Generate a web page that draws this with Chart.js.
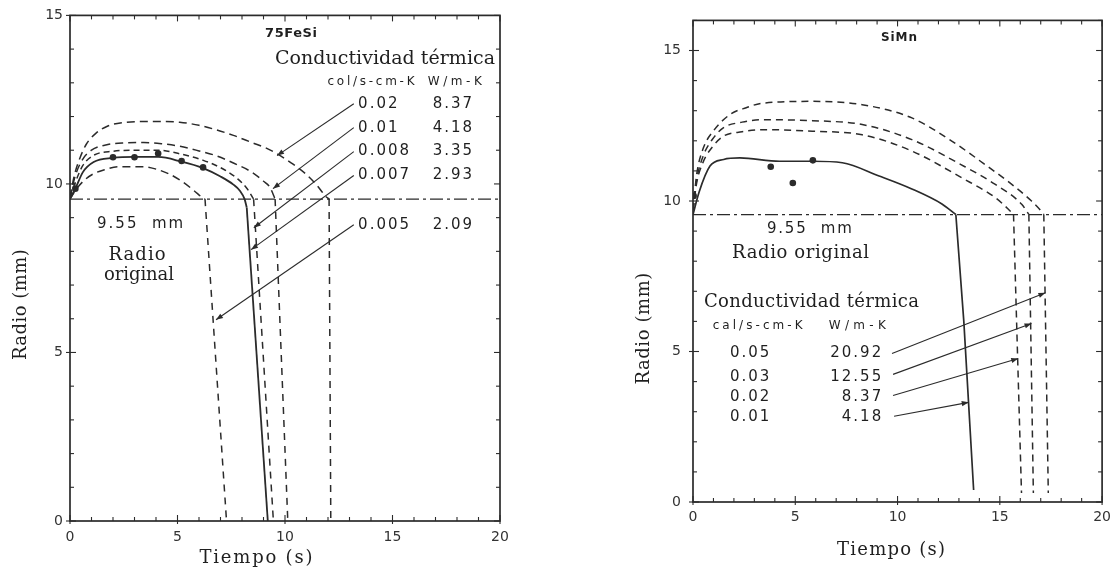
<!DOCTYPE html>
<html>
<head>
<meta charset="utf-8">
<title>Radio vs tiempo - 75FeSi y SiMn</title>
<script src="https://cdn.jsdelivr.net/npm/chart.js@4.4.0/dist/chart.umd.min.js"></script>
<style>
  body { margin: 0; background: #fff; }
  #wrap { position: relative; width: 1118px; height: 576px; }
  canvas { position: absolute; top: 0; }
  #chartFe { left: 0; }
  #chartMn { left: 560px; }
</style>
</head>
<body>
<div id="wrap">
  <canvas id="chartFe" width="560" height="576"></canvas>
  <canvas id="chartMn" width="558" height="576"></canvas>
</div>

<script>
// ---------- 75FeSi (izquierda) ----------
// parte curva hasta el radio original, luego la caida casi vertical
var fe002X = [0, 0.2, 0.45, 0.75, 1.2, 1.76, 2.5, 3.43, 4.3, 5.1, 6.0, 6.78, 7.6, 8.45, 9.1, 9.62, 10.3, 10.96, 11.5, 11.88, 12.05];
var fe002Y = [9.6, 10.25, 10.75, 11.17, 11.5, 11.72, 11.82, 11.85, 11.85, 11.83, 11.74, 11.61, 11.44, 11.23, 11.07, 10.9, 10.62, 10.3, 9.95, 9.64, 9.55];
var fe002DropX = [12.05, 12.13];
var fe002DropY = [9.55, 0];
var fe001X = [0, 0.25, 0.59, 1.0, 1.76, 2.6, 3.43, 4.3, 5.1, 6.0, 6.78, 7.6, 8.45, 9.0, 9.29, 9.54];
var fe001Y = [9.6, 10.25, 10.73, 11.0, 11.17, 11.22, 11.23, 11.19, 11.12, 10.98, 10.84, 10.62, 10.35, 10.08, 9.91, 9.55];
var fe001DropX = [9.54, 10.13];
var fe001DropY = [9.55, 0];
var fe0008X = [0, 0.25, 0.6, 1.1, 2.0, 3.0, 4.1, 5.2, 6.2, 7.1, 7.8, 8.25, 8.54];
var fe0008Y = [9.6, 10.05, 10.55, 10.85, 10.97, 11.0, 11.0, 10.88, 10.7, 10.45, 10.15, 9.85, 9.55];
var fe0008DropX = [8.54, 9.46];
var fe0008DropY = [9.55, 0];
var fe0007X = [0, 0.25, 0.6, 1.1, 2.0, 3.0, 4.1, 5.19, 6.19, 7.0, 7.6, 7.9, 8.12, 8.22];
var fe0007Y = [9.55, 9.86, 10.35, 10.65, 10.77, 10.8, 10.8, 10.66, 10.47, 10.22, 9.98, 9.8, 9.55, 9.3];
var fe0007DropX = [8.22, 9.2];
var fe0007DropY = [9.3, 0];
var fe0005X = [0, 0.3, 0.65, 1.09, 1.6, 2.26, 3.43, 4.0, 4.6, 5.2, 5.77, 6.19, 6.28];
var fe0005Y = [9.55, 9.85, 10.1, 10.3, 10.42, 10.51, 10.51, 10.44, 10.3, 10.08, 9.8, 9.58, 9.55];
var fe0005DropX = [6.28, 7.28];
var fe0005DropY = [9.55, 0];
var feDotX = [0.25, 2.0, 3.0, 4.1, 5.19, 6.19];
var feDotY = [9.86, 10.79, 10.79, 10.9, 10.68, 10.49];
var feLeadX = [[13.2, 9.63], [13.2, 9.44], [13.2, 8.55], [13.2, 8.42], [13.2, 6.79]];
var feLeadY = [[12.38, 10.84], [11.67, 9.86], [10.96, 8.7], [10.25, 8.05], [8.79, 5.97]];
var feCal = ['0.02', '0.01', '0.008', '0.007', '0.005'];
var feWm = ['8.37', '4.18', '3.35', '2.93', '2.09'];

// ---------- SiMn (derecha) ----------
var mn005X = [0, 0.18, 0.5, 0.99, 1.8, 2.6, 3.4, 5.84, 8.27, 10.7, 12.65, 14.3, 15.57, 16.55, 16.98, 17.15];
var mn005Y = [9.7, 10.88, 11.75, 12.32, 12.87, 13.1, 13.25, 13.31, 13.2, 12.76, 11.99, 11.2, 10.56, 10.0, 9.7, 9.55];
var mn005DropX = [17.15, 17.37];
var mn005DropY = [9.55, 0.3];
var mn003X = [0, 0.18, 0.5, 0.95, 1.48, 2.4, 3.4, 5.84, 8.27, 10.7, 13.1, 14.78, 16.07, 16.42];
var mn003Y = [9.7, 10.7, 11.5, 12.05, 12.43, 12.62, 12.7, 12.67, 12.54, 12.04, 11.21, 10.55, 9.89, 9.55];
var mn003DropX = [16.42, 16.64];
var mn003DropY = [9.55, 0.3];
var mn002X = [0, 0.18, 0.5, 0.95, 1.48, 2.4, 3.4, 5.84, 8.27, 10.7, 13.14, 14.78, 15.43, 15.67];
var mn002Y = [9.7, 10.6, 11.3, 11.8, 12.15, 12.3, 12.37, 12.32, 12.2, 11.66, 10.77, 10.11, 9.72, 9.55];
var mn002DropX = [15.67, 16.06];
var mn002DropY = [9.55, 0.3];
var mn001X = [0, 0.3, 0.83, 1.5, 2.29, 4.23, 5.84, 7.3, 9.1, 10.7, 12.17, 12.85];
var mn001Y = [9.55, 10.3, 11.16, 11.38, 11.43, 11.32, 11.32, 11.27, 10.83, 10.4, 9.9, 9.55];
var mn001DropX = [12.85, 13.24, 13.72];
var mn001DropY = [9.55, 6.0, 0.4];
var mnDotX = [0.03, 3.8, 4.88, 5.86];
var mnDotY = [10.17, 11.14, 10.6, 11.35];
var mnLeadX = [[9.73, 17.23], [9.78, 16.55], [9.78, 15.9], [9.83, 13.48]];
var mnLeadY = [[4.93, 6.95], [4.24, 5.93], [3.54, 4.77], [2.85, 3.31]];
var mnCal = ['0.05', '0.03', '0.02', '0.01'];
var mnWm = ['20.92', '12.55', '8.37', '4.18'];

var radioOriginal = 9.55;
var xTicks = [0, 5, 10, 15, 20];
var yTicks = [0, 5, 10, 15];

// ---------- helpers ----------
function pts(xs, ys) {
  return xs.map(function (v, i) { return { x: v, y: ys[i] }; });
}
var INK = '#2b2b2b';
var SERIF = '"DejaVu Serif", "Liberation Serif", serif';
var SANS = '"DejaVu Sans", "Liberation Sans", sans-serif';

function curve(xs, ys, dash, w) {
  return { data: pts(xs, ys), showLine: true, borderColor: INK, borderWidth: w || 1.5,
           borderDash: dash || [], pointRadius: 0, cubicInterpolationMode: 'monotone', fill: false };
}
function straight(xs, ys, dash, w, arrow) {
  return { data: pts(xs, ys), showLine: true, borderColor: INK, borderWidth: w || 1.1,
           borderDash: dash || [], pointRadius: 0, tension: 0, fill: false, arrow: !!arrow };
}
function dots(xs, ys, r) {
  return { data: pts(xs, ys), showLine: false, pointRadius: r, pointBackgroundColor: INK,
           pointBorderColor: INK, pointBorderWidth: 0 };
}

// texto con espaciado ajustado a un ancho dado
function putText(ctx, t, px, py) {
  ctx.font = t.font;
  ctx.letterSpacing = '0px';
  var w0 = ctx.measureText(t.s).width;
  var ls = t.ls || 0;
  if (t.w) ls = (t.w - w0) / Math.max(1, t.s.length - 1);
  var total = w0 + ls * (t.s.length - 1);
  ctx.letterSpacing = ls + 'px';
  ctx.save();
  ctx.translate(px, py);
  if (t.rot) ctx.rotate(t.rot);
  var x0 = t.align === 'left' ? 0 : (t.align === 'right' ? -total : -total / 2);
  ctx.textAlign = 'left';
  ctx.textBaseline = 'middle';
  ctx.fillStyle = '#1f1f1f';
  ctx.fillText(t.s, x0, 0);
  ctx.restore();
  ctx.letterSpacing = '0px';
}

var decor = {
  id: 'decor',
  afterDatasetsDraw: function (chart, args, o) {
    var ctx = chart.ctx, a = chart.chartArea, sx = chart.scales.x, sy = chart.scales.y;
    ctx.save();
    ctx.setLineDash([]);
    ctx.strokeStyle = INK;
    // marco
    ctx.lineWidth = 1.7;
    ctx.strokeRect(a.left, a.top, a.right - a.left, a.bottom - a.top);
    // marcas de escala
    ctx.lineWidth = 1.1;
    function seg(x1, y1, x2, y2) { ctx.beginPath(); ctx.moveTo(x1, y1); ctx.lineTo(x2, y2); ctx.stroke(); }
    var v, p, big;
    for (v = sx.min; v <= sx.max; v++) {
      p = sx.getPixelForValue(v); big = v % 5 === 0;
      seg(p, a.bottom + (big ? 3 : 0), p, a.bottom - (big ? 6 : 4));
      seg(p, a.top, p, a.top + (big ? 6 : 4));
    }
    for (v = sy.min; v <= sy.max; v++) {
      p = sy.getPixelForValue(v); big = v % 5 === 0;
      seg(a.left - (big ? 4 : 0), p, a.left + (big ? 6 : 4), p);
      seg(a.right, p, a.right - (big ? 6 : 4), p);
    }
    // puntas de flecha
    chart.data.datasets.forEach(function (ds, i) {
      if (!ds.arrow) return;
      var el = chart.getDatasetMeta(i).data;
      var p1 = el[el.length - 2], p2 = el[el.length - 1];
      var ang = Math.atan2(p2.y - p1.y, p2.x - p1.x), L = 7, H = 2.6;
      ctx.fillStyle = INK;
      ctx.beginPath();
      ctx.moveTo(p2.x, p2.y);
      ctx.lineTo(p2.x - L * Math.cos(ang) + H * Math.sin(ang), p2.y - L * Math.sin(ang) - H * Math.cos(ang));
      ctx.lineTo(p2.x - L * Math.cos(ang) - H * Math.sin(ang), p2.y - L * Math.sin(ang) + H * Math.cos(ang));
      ctx.closePath();
      ctx.fill();
    });
    // textos
    (o.texts || []).forEach(function (t) {
      putText(ctx, t, sx.getPixelForValue(t.x), sy.getPixelForValue(t.y));
    });
    ctx.restore();
  }
};

function makeOptions(ymax, pad, yW, xH, padX, padY, texts) {
  return {
    responsive: false,
    animation: false,
    layout: { padding: pad },
    plugins: { legend: { display: false }, tooltip: { enabled: false }, decor: { texts: texts } },
    scales: {
      x: {
        type: 'linear', min: 0, max: 20,
        afterFit: function (s) { s.height = xH; },
        afterBuildTicks: function (s) { s.ticks = xTicks.map(function (v) { return { value: v }; }); },
        grid: { display: false, drawTicks: false }, border: { display: false },
        ticks: { padding: padX, color: '#333', font: { family: SANS, size: 14 } }
      },
      y: {
        type: 'linear', min: 0, max: ymax,
        afterFit: function (s) { s.width = yW; },
        afterBuildTicks: function (s) { s.ticks = yTicks.map(function (v) { return { value: v }; }); },
        grid: { display: false, drawTicks: false }, border: { display: false },
        ticks: { padding: padY, color: '#333', font: { family: SANS, size: 14 } }
      }
    }
  };
}

// ---------- grafico 75FeSi ----------
var feSets = [
  straight([0, 20], [radioOriginal, radioOriginal], [13, 4, 3, 4], 1.3),
  curve(fe002X, fe002Y, [8, 5]),
  straight(fe002DropX, fe002DropY, [7, 6], 1.5),
  curve(fe001X, fe001Y, [8, 5]),
  straight(fe001DropX, fe001DropY, [7, 6], 1.5),
  curve(fe0008X, fe0008Y, [6, 4]),
  straight(fe0008DropX, fe0008DropY, [7, 6], 1.5),
  curve(fe0007X, fe0007Y, [], 1.8),
  straight(fe0007DropX, fe0007DropY, [], 1.8),
  curve(fe0005X, fe0005Y, [8, 5]),
  straight(fe0005DropX, fe0005DropY, [7, 6], 1.5),
  dots(feDotX, feDotY, 3.3)
];
feLeadX.forEach(function (xs, i) { feSets.push(straight(xs, feLeadY[i], [], 1.1, true)); });

var feTexts = [
  { s: '75FeSi', x: 10.28, y: 14.46, font: 'bold 13px ' + SANS, w: 52 },
  { s: 'Conductividad térmica', x: 14.65, y: 13.69, font: '19px ' + SERIF, w: 220 },
  { s: 'col/s-cm-K', x: 14.0, y: 13.04, font: '12px ' + SANS, w: 87 },
  { s: 'W/m-K', x: 17.9, y: 13.04, font: '12px ' + SANS, w: 54 },
  { s: '9.55  mm', x: 3.26, y: 8.82, font: '15px ' + SANS, w: 86 },
  { s: 'Radio', x: 3.12, y: 7.89, font: '18px ' + SERIF, w: 57 },
  { s: 'original', x: 3.21, y: 7.28, font: '18px ' + SERIF, w: 70 },
  { s: 'Tiempo (s)', x: 8.65, y: -1.1, font: '18px ' + SERIF, w: 113 },
  { s: 'Radio (mm)', x: -2.28, y: 6.42, font: '18px ' + SERIF, w: 111, rot: -Math.PI / 2 }
];
var feRowY = [12.38, 11.67, 10.96, 10.25, 8.79];
feCal.forEach(function (s, i) {
  feTexts.push({ s: s, x: 13.4, y: feRowY[i], font: '15px ' + SANS, ls: 2, align: 'left' });
  feTexts.push({ s: feWm[i], x: 18.7, y: feRowY[i], font: '15px ' + SANS, ls: 2, align: 'right' });
});

new Chart(document.getElementById('chartFe'), {
  type: 'scatter',
  data: { datasets: feSets },
  options: makeOptions(15, { left: 0, top: 15, right: 60, bottom: 0 }, 70, 55, 8, 7, feTexts),
  plugins: [decor]
});

// ---------- grafico SiMn ----------
var mnSets = [
  straight([0, 20], [radioOriginal, radioOriginal], [13, 4, 3, 4], 1.3),
  curve(mn005X, mn005Y, [7, 5]),
  straight(mn005DropX, mn005DropY, [7, 5], 1.5),
  curve(mn003X, mn003Y, [7, 5]),
  straight(mn003DropX, mn003DropY, [7, 5], 1.5),
  curve(mn002X, mn002Y, [7, 5]),
  straight(mn002DropX, mn002DropY, [7, 5], 1.5),
  curve(mn001X, mn001Y, [], 1.7),
  straight(mn001DropX, mn001DropY, [], 1.7),
  dots(mnDotX, mnDotY, 3.3)
];
mnLeadX.forEach(function (xs, i) { mnSets.push(straight(xs, mnLeadY[i], [], 1.1, true)); });

var mnTexts = [
  { s: 'SiMn', x: 10.07, y: 15.43, font: 'bold 12px ' + SANS, w: 36 },
  { s: '9.55  mm', x: 5.69, y: 9.07, font: '15px ' + SANS, w: 85 },
  { s: 'Radio original', x: 5.26, y: 8.25, font: '18px ' + SERIF, w: 137 },
  { s: 'Conductividad térmica', x: 5.79, y: 6.62, font: '18px ' + SERIF, w: 215 },
  { s: 'cal/s-cm-K', x: 3.16, y: 5.86, font: '12px ' + SANS, w: 90 },
  { s: 'W/m-K', x: 8.03, y: 5.86, font: '12px ' + SANS, w: 57 },
  { s: 'Tiempo (s)', x: 9.68, y: -1.59, font: '18px ' + SERIF, w: 108 },
  { s: 'Radio (mm)', x: -2.38, y: 5.76, font: '18px ' + SERIF, w: 112, rot: -Math.PI / 2 }
];
var mnRowY = [4.93, 4.14, 3.48, 2.81];
mnCal.forEach(function (s, i) {
  mnTexts.push({ s: s, x: 2.77, y: mnRowY[i], font: '15px ' + SANS, ls: 2 });
  mnTexts.push({ s: mnWm[i], x: 9.2, y: mnRowY[i], font: '15px ' + SANS, ls: 2, align: 'right' });
});

new Chart(document.getElementById('chartMn'), {
  type: 'scatter',
  data: { datasets: mnSets },
  options: makeOptions(16, { left: 0, top: 19, right: 14, bottom: 0 }, 133, 74, 7, 12, mnTexts),
  plugins: [decor]
});
</script>
</body>
</html>
